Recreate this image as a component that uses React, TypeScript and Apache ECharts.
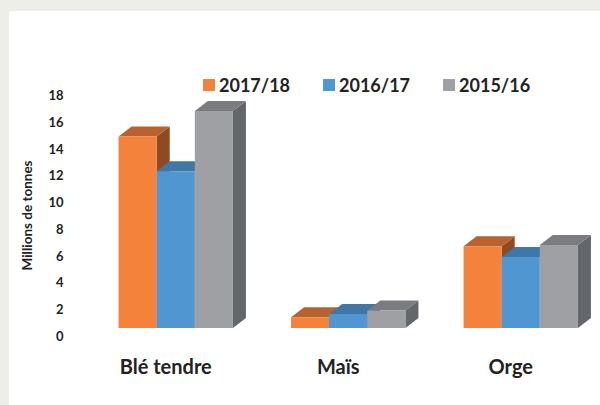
import React, { useEffect, useRef } from "react";
import * as echarts from "echarts";

const categories = ["Blé tendre", "Maïs", "Orge"];
const seriesNames = ["2017/18", "2016/17", "2015/16"];
const values2017 = [14.3, 0.8, 6.1];
const values2016 = [11.7, 1.05, 5.3];
const values2015 = [16.2, 1.3, 6.2];
const yTicks = { min: 0, max: 18, interval: 2 };

const palette = [
  { front: "#f4823a", top: "#b8622f", side: "#8f4a22" },
  { front: "#5097d2", top: "#3f77a7", side: "#2f5b80" },
  { front: "#9ea0a4", top: "#7a7c80", side: "#63666a" },
];

const FONT = "Lato, 'Open Sans', sans-serif";

export default function App() {
  const ref = useRef<HTMLDivElement>(null);
  useEffect(() => {
    if (!ref.current) return;
    const chart = echarts.init(ref.current, undefined, { renderer: "svg" });
    const allValues = [values2017, values2016, values2015];
    const series = allValues.map((vals, si) => ({
      type: "custom",
      name: seriesNames[si],
      itemStyle: { color: palette[si].front },
      data: vals.map((v, i) => [i, v]),
      encode: { x: 0, y: 1 },
      renderItem: (params: any, api: any) => {
        const cat = api.value(0);
        const v = api.value(1);
        const base = api.coord([cat, 0]);
        const top = api.coord([cat, v]);
        const band = api.size([1, 0])[0];
        const w = band * 0.221;
        const cx = base[0] + 10 + (si - 1) * w;
        const x0 = cx - w / 2;
        const x1 = cx + w / 2;
        const yb = base[1] - 8;
        const yt = top[1] - 8;
        const dx = 13;
        const dy = -10;
        const c = palette[si];
        return {
          type: "group",
          children: [
            {
              type: "polygon",
              shape: { points: [[x1, yt], [x1 + dx, yt + dy], [x1 + dx, yb + dy], [x1, yb]] },
              style: { fill: c.side },
            },
            {
              type: "polygon",
              shape: { points: [[x0, yt], [x0 + dx, yt + dy], [x1 + dx, yt + dy], [x1, yt]] },
              style: { fill: c.top },
            },
            {
              type: "rect",
              shape: { x: x0, y: yt, width: w, height: yb - yt },
              style: { fill: c.front },
            },
          ],
        };
      },
    }));
    chart.setOption({
      animation: false,
      backgroundColor: "#eeeee8",
      graphic: {
        elements: [
          {
            type: "rect",
            z: -10,
            silent: true,
            shape: { x: 9, y: 11, width: 591, height: 394 },
            style: { fill: "#ffffff" },
          },
        ],
      },
      legend: {
        data: seriesNames,
        left: 203,
        top: 76,
        padding: 0,
        icon: "rect",
        itemWidth: 12,
        itemHeight: 12,
        itemGap: 33,
        textStyle: { fontFamily: FONT, fontSize: 18, fontWeight: "bold", color: "#222222", padding: [0, 0, 0, -1] },
      },
      grid: { left: 79.5, right: 3, top: 95, bottom: 69, containLabel: false },
      xAxis: {
        type: "category",
        data: categories,
        axisLine: { show: false },
        axisTick: { show: false },
        splitLine: { show: false },
        axisLabel: {
          margin: 20,
          fontFamily: FONT,
          fontSize: 20,
          fontWeight: "bold",
          color: "#222222",
        },
      },
      yAxis: {
        type: "value",
        min: yTicks.min,
        max: yTicks.max,
        interval: yTicks.interval,
        axisLine: { show: false },
        axisTick: { show: false },
        splitLine: { show: false },
        axisLabel: {
          margin: 16,
          fontFamily: FONT,
          fontSize: 13,
          fontWeight: "bold",
          color: "#222222",
        },
        name: "Millions de tonnes",
        nameLocation: "middle",
        nameGap: 46,
        nameRotate: 90,
        nameTextStyle: { fontFamily: FONT, fontSize: 13.5, fontWeight: "bold", color: "#222222" },
      },
      series,
    });
    return () => chart.dispose();
  }, []);
  return (
    <div style={{ position: "fixed", left: 0, top: 0, width: 600, height: 405 }}>
      <div ref={ref} style={{ width: 600, height: 405 }} />
    </div>
  );
}
